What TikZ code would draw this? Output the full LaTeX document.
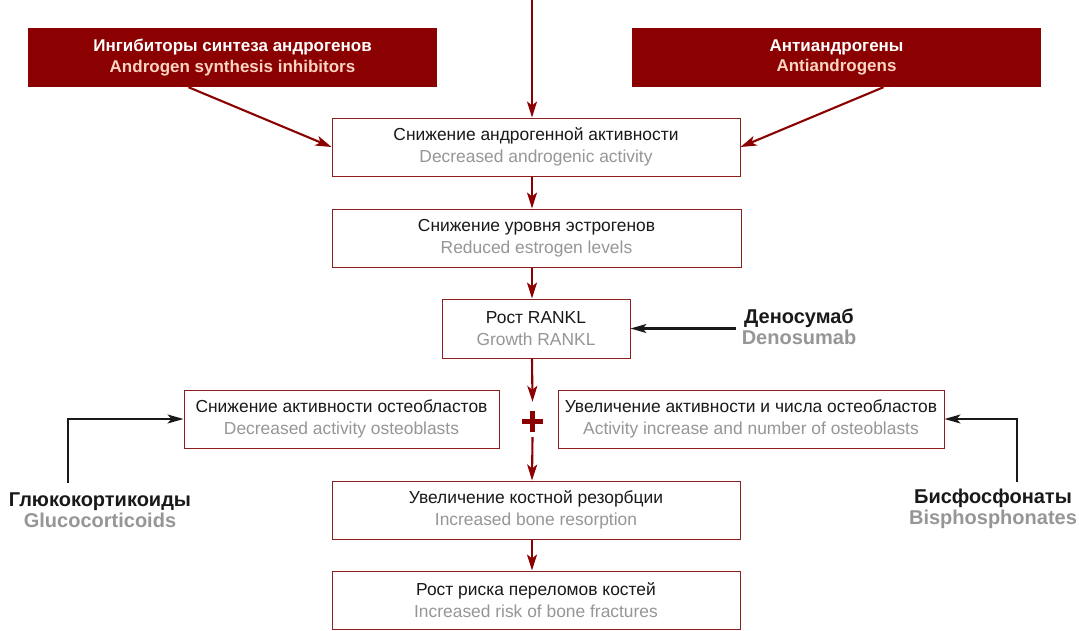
\documentclass[tikz,border=0pt]{standalone}
\usepackage{fontspec}
\setmainfont{Liberation Sans}
\usetikzlibrary{arrows.meta}
\definecolor{dred}{RGB}{139,0,0}
\definecolor{bred}{RGB}{140,30,30}
\definecolor{engray}{RGB}{150,150,150}
\definecolor{pinktxt}{RGB}{250,212,195}
\definecolor{ink}{RGB}{25,25,25}
\newcommand{\eng}[1]{\textcolor{engray}{#1}}
\newcommand{\peng}[1]{\textcolor{pinktxt}{#1}}
\begin{document}
\begin{tikzpicture}[x=1pt,y=-1pt,
 wbox/.style={draw=bred, line width=1pt, fill=white, align=center, inner sep=2pt, font=\fontsize{17.4}{21.5}\selectfont, text=ink},
 rbox/.style={fill=dred, align=center, inner sep=2pt, font=\bfseries\fontsize{17}{20.5}\selectfont, text=white},
 lbl/.style={align=center, inner sep=3pt, font=\bfseries\fontsize{20}{21}\selectfont, text=ink},
 rarr/.style={draw=dred, line width=2.1pt, -{Stealth[length=16pt,width=10pt,inset=4pt]}},
 karr/.style={draw=ink, line width=2.1pt, -{Stealth[length=16pt,width=9pt,inset=4pt]}},
]
\useasboundingbox (0,0) rectangle (1079,630);
\fill[white] (0,0) rectangle (1079,630);

% red boxes
\node[rbox, minimum width=409pt, minimum height=59pt] (rl) at (232.5,57.5) {Ингибиторы синтеза андрогенов\\\peng{Androgen synthesis inhibitors}};
\node[rbox, minimum width=409pt, minimum height=59pt] (rr) at (836.5,57.5) {Антиандрогены\\\peng{Antiandrogens}};

% white boxes
\node[wbox, minimum width=408pt, minimum height=58pt] (b1) at (536,147) {Снижение андрогенной активности\\\eng{Decreased androgenic activity}};
\node[wbox, minimum width=409pt, minimum height=58pt] (b2) at (536.5,238) {Снижение уровня эстрогенов\\\eng{Reduced estrogen levels}};
\node[wbox, minimum width=188pt, minimum height=59pt] (rk) at (536,328.5) {Рост RANKL\\\eng{Growth RANKL}};
\node[wbox, minimum width=315pt, minimum height=58pt] (lb) at (341.5,419) {Снижение активности остеобластов\\\eng{Decreased activity osteoblasts}};
\node[wbox, minimum width=386pt, minimum height=58pt] (rb) at (751,419) {Увеличение активности и числа остеобластов\\\eng{Activity increase and number of osteoblasts}};
\node[wbox, minimum width=408pt, minimum height=58pt] (res) at (536,510) {Увеличение костной резорбции\\\eng{Increased bone resorption}};
\node[wbox, minimum width=408pt, minimum height=58pt] (fr) at (536,600) {Рост риска переломов костей\\\eng{Increased risk of bone fractures}};

% drug labels
\node[lbl] (deno) at (799,327) {Деносумаб\\\eng{Denosumab}};
\node[lbl] (gluco) at (100,510) {Глюкокортикоиды\\\eng{Glucocorticoids}};
\node[lbl] (bis) at (993,509) {Бисфосфонаты\\\eng{Bisphosphonates}};

% plus sign
\node[minimum size=21pt, inner sep=0pt] (plus) at (532.5,421.5) {};
\fill[dred] ([xshift=-10.5pt,yshift=2.6pt]plus.center) rectangle ([xshift=10.5pt,yshift=-2.6pt]plus.center);
\fill[dred] ([xshift=-2.6pt,yshift=10.5pt]plus.center) rectangle ([xshift=2.6pt,yshift=-10.5pt]plus.center);

% connectors
\coordinate (axis) at (532,0);
\draw[rarr] (axis) -- (b1.north -| axis);
\draw[rarr] ([xshift=-44pt]rl.south) -- (b1.west);
\draw[rarr] ([xshift=47pt]rr.south) -- (b1.east);
\draw[rarr] (b1.south -| axis) -- (b2.north -| axis);
\draw[rarr] (b2.south -| axis) -- (rk.north -| axis);
\draw[rarr] (rk.south -| axis) -- ([yshift=9pt]plus.north);
\draw[rarr] ([yshift=-5pt]plus.south) -- (res.north -| axis);
\draw[rarr] (res.south -| axis) -- (fr.north -| axis);
\draw[karr] ([xshift=-3pt]deno.west |- rk.east) -- (rk.east);
\coordinate (gk) at (68,483);
\draw[karr] (gk) |- (lb.west);
\coordinate (bk) at (1017,482);
\draw[karr] (bk) |- (rb.east);
\end{tikzpicture}
\end{document}
